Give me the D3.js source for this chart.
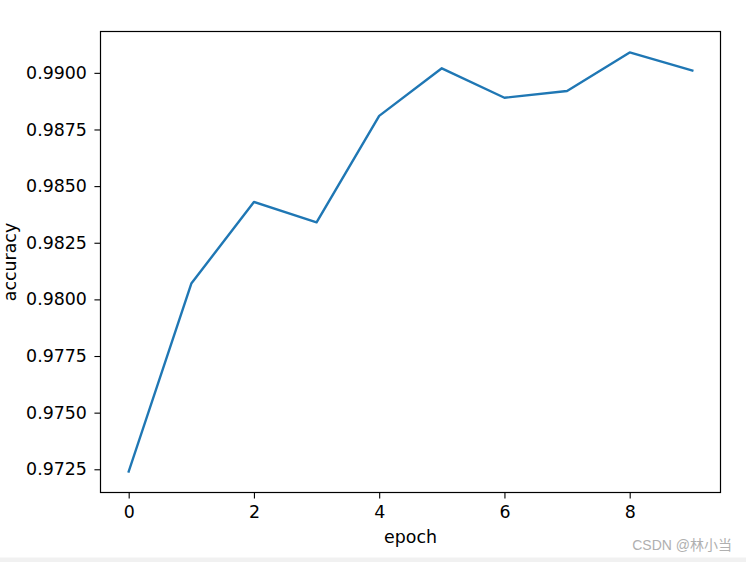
<!DOCTYPE html>
<html><head><meta charset="utf-8">
<script src="https://cdn.jsdelivr.net/npm/d3@7"></script>
<style>
html,body{margin:0;padding:0;background:#fff;}
svg{display:block;}
text{font-family:"DejaVu Sans",sans-serif;}
</style></head>
<body>
<script>
const epochs = [0,1,2,3,4,5,6,7,8,9];
const accuracy = [0.9724,0.9807,0.9843,0.9834,0.9881,0.9902,0.9889,0.9892,0.9909,0.9901];
const xTicks = [0,2,4,6,8];
const yTicks = [0.9725,0.9750,0.9775,0.9800,0.9825,0.9850,0.9875,0.9900];
const xLabel = "epoch";
const yLabel = "accuracy";
const watermark = "CSDN @林小当";

const W = 746, H = 562;
const m = {left:100.5, right:720.5, top:31.5, bottom:492.5};
const FS = 17.4;
const svg = d3.select("body").append("svg").attr("width",W).attr("height",H);
svg.append("rect").attr("x",0).attr("y",0).attr("width",W).attr("height",H).attr("fill","#fff");
svg.append("rect").attr("x",0).attr("y",557.5).attr("width",W).attr("height",5).attr("fill","#f1f1f1");

const ymin = d3.min(accuracy), ymax = d3.max(accuracy), yr = ymax-ymin;
const x = d3.scaleLinear().domain([-0.45, 9.45]).range([m.left, m.right]);
const y = d3.scaleLinear().domain([ymin-0.05*yr, ymax+0.05*yr]).range([m.bottom, m.top]);

const tickLen = 6.08;
const xAxis = svg.append("g").attr("transform",`translate(0,${m.bottom})`)
  .call(d3.axisBottom(x).tickValues(xTicks).tickFormat(d3.format("d")).tickSizeInner(tickLen).tickSizeOuter(0).tickPadding(6.08));
const yAxis = svg.append("g").attr("transform",`translate(${m.left},0)`)
  .call(d3.axisLeft(y).tickValues(yTicks).tickFormat(d3.format(".4f")).tickSizeInner(tickLen).tickSizeOuter(0).tickPadding(7.5));
[xAxis,yAxis].forEach(g=>{
  g.select(".domain").remove();
  g.selectAll(".tick line").attr("stroke","#000").attr("stroke-width",1.1);
  g.selectAll(".tick text").attr("fill","#000").style("font-size",FS+"px").style("font-family","'DejaVu Sans',sans-serif");
});
xAxis.selectAll(".tick text").attr("dy","0.76em");

const line = d3.line().x((d,i)=>x(epochs[i])).y(d=>y(d));
svg.append("path").datum(accuracy).attr("d",line).attr("fill","none")
  .attr("stroke","#1f77b4").attr("stroke-width",2.4).attr("stroke-linecap","square").attr("stroke-linejoin","round");

svg.append("rect").attr("x",m.left).attr("y",m.top).attr("width",m.right-m.left).attr("height",m.bottom-m.top)
  .attr("fill","none").attr("stroke","#000").attr("stroke-width",1.2);

svg.append("text").attr("x",(m.left+m.right)/2).attr("y",543).attr("text-anchor","middle")
  .style("font-size",FS+"px").attr("fill","#000").text(xLabel);
svg.append("text").attr("transform",`translate(15.5,${(m.top+m.bottom)/2}) rotate(-90)`).attr("text-anchor","middle")
  .style("font-size",FS+"px").attr("fill","#000").text(yLabel);

svg.append("text").attr("x",732).attr("y",549.5).attr("text-anchor","end")
  .style("font-size","14px").style("font-family","'Liberation Sans','Noto Sans CJK SC',sans-serif").attr("fill","#b0b0b0").text(watermark);
</script>
</body></html>
